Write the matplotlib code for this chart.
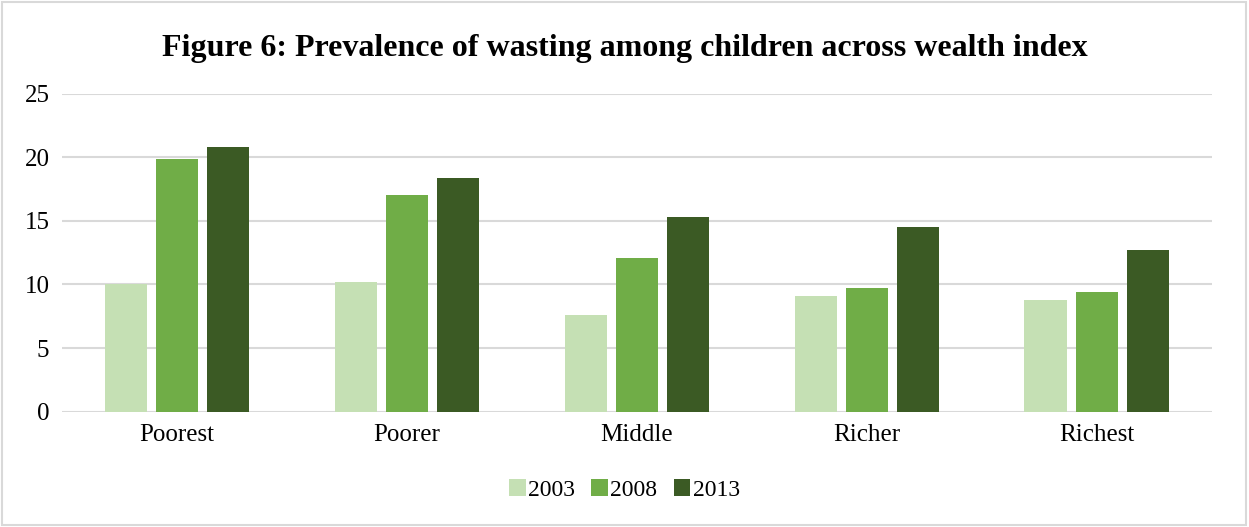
import numpy as np
import matplotlib.pyplot as plt
from matplotlib.patches import Rectangle

plt.rcParams['font.family'] = ['Liberation Serif', 'DejaVu Serif']

# data
categories = ['Poorest', 'Poorer', 'Middle', 'Richer', 'Richest']
years = ['2003', '2008', '2013']
w2003 = [10.0, 10.2, 7.6, 9.1, 8.8]
w2008 = [19.9, 17.0, 12.05, 9.75, 9.4]
w2013 = [20.8, 18.4, 15.3, 14.5, 12.7]
colors = ['#c5e0b4', '#70ad47', '#3b5a24']

fig = plt.figure(figsize=(12.49, 5.27), dpi=100)
ax = fig.add_axes([0.0496, 0.2188, 0.9204, 0.6034])

x = np.arange(len(categories))
width = 0.183
step = 0.222
for i, (vals, lab) in enumerate(zip([w2003, w2008, w2013], years)):
    ax.bar(x + (i - 1) * step, vals, width, color=colors[i], label=lab, zorder=3)

ax.set_xlim(-0.5, len(categories) - 0.5)
ax.set_ylim(0, 25)
ax.set_yticks(range(0, 26, 5))
ax.set_xticks(x)
ax.set_xticklabels(categories)
ax.yaxis.grid(True, color='#d9d9d9', linewidth=1.5, zorder=0)
for s in ax.spines.values():
    s.set_visible(False)
ax.tick_params(axis='both', length=0, labelsize=18, colors='black')
ax.tick_params(axis='y', pad=9)
ax.tick_params(axis='x', pad=9)

fig.suptitle('Figure 6: Prevalence of wasting among children across wealth index',
             fontsize=23, fontweight='bold', y=0.935)

fig.legend(loc='center', bbox_to_anchor=(0.5, 0.07), ncol=3, frameon=False,
           fontsize=17, handlelength=0.7, handleheight=0.7, handletextpad=0.1,
           columnspacing=0.7)

fig.patches.append(Rectangle((0.0015, 0.003), 0.996, 0.994, transform=fig.transFigure,
                             fill=False, edgecolor='#d9d9d9', linewidth=1.5))

fig.savefig('out.png', dpi=100)
